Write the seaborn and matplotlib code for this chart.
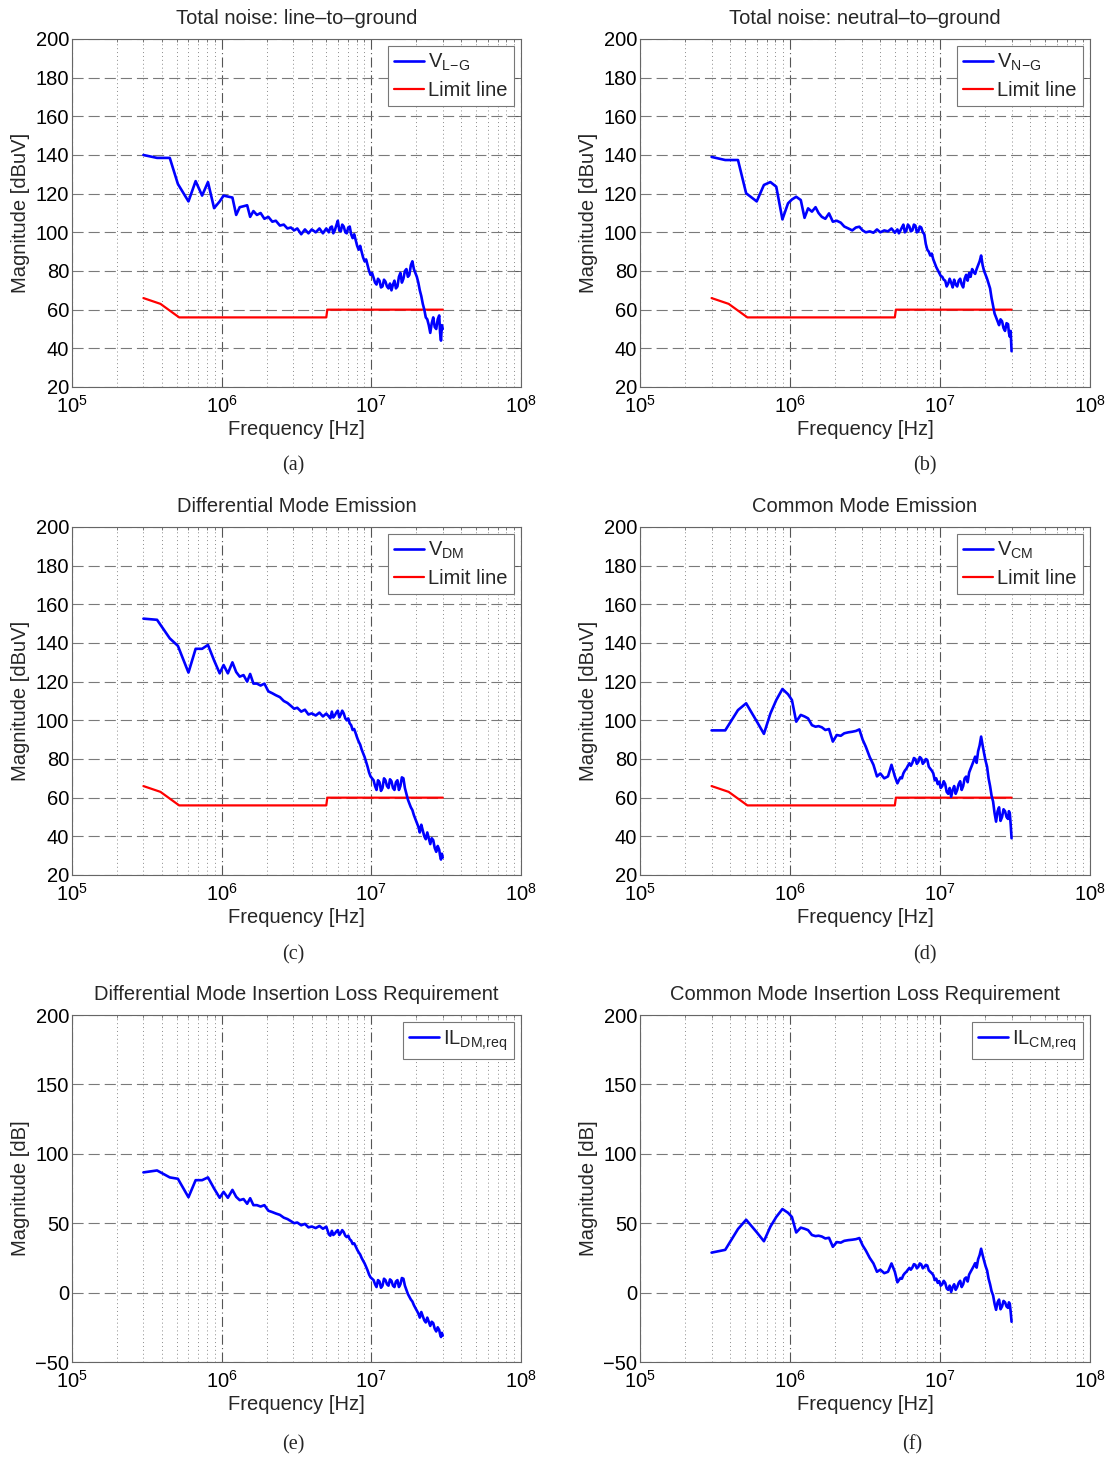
import numpy as np
import pandas as pd
import matplotlib
matplotlib.use("Agg")
import matplotlib.pyplot as plt
import seaborn as sns
from matplotlib.ticker import LogLocator, NullFormatter, FixedLocator

# ---------------- data ----------------
# sparse low-frequency part (0.3 - 5 MHz)
freq_low_mhz = [
    0.30, 0.37, 0.45, 0.51, 0.60, 0.67, 0.74, 0.81, 0.89, 0.97,
    1.03, 1.10, 1.18, 1.25, 1.32, 1.40, 1.48, 1.55, 1.63, 1.72,
    1.82, 1.93, 2.05, 2.18, 2.30, 2.45, 2.60, 2.75, 2.90, 3.05,
    3.20, 3.40, 3.60, 3.80, 4.00, 4.25, 4.50, 4.75, 5.00,
]
# dense high-frequency part (5.2 - 30 MHz)
freq_high_mhz = [
    5.20, 5.32, 5.45, 5.57, 5.70, 5.83, 5.97, 6.11, 6.25, 6.39,
    6.54, 6.70, 6.85, 7.01, 7.17, 7.33, 7.50, 7.68, 7.86, 8.04,
    8.23, 8.42, 8.61, 8.81, 9.02, 9.23, 9.44, 9.66, 9.88, 10.11,
    10.35, 10.59, 10.83, 11.08, 11.34, 11.60, 11.87, 12.15, 12.43, 12.72,
    13.02, 13.32, 13.63, 13.95, 14.27, 14.60, 14.94, 15.29, 15.64, 16.00,
    16.38, 16.76, 17.15, 17.55, 17.95, 18.37, 18.80, 19.24, 19.68, 20.14,
    20.60, 21.08, 21.57, 22.07, 22.59, 23.11, 23.65, 24.20, 24.76, 25.33,
    25.92, 26.52, 27.14, 27.77, 28.42, 28.80, 29.20, 29.60, 30.00,
]

v_lg_low = [
    140, 138.5, 138.5, 125, 116, 126.5, 119, 126, 112.5, 116,
    119, 118.5, 118, 109, 113, 113.5, 114, 108, 111, 109,
    110, 107, 108, 105.5, 106, 103.5, 104, 102, 102.5, 101,
    102, 99, 101.5, 99.5, 101.5, 100, 102, 99.5, 102,
]
v_lg_high = [
    100, 102.5, 103, 99.5, 101, 103.5, 106, 101, 100.5, 104,
    103, 100, 99.5, 102.5, 103, 99, 97, 99, 96, 93,
    91, 93, 90, 87, 85, 86, 83, 80, 78, 79,
    76.5, 74, 73, 76, 75, 71.5, 72, 75.5, 74.5, 72,
    71, 73.5, 70, 73, 75, 71, 72, 77, 79, 74,
    76, 80, 81, 77, 78, 83, 85, 81, 79, 77,
    74, 70, 67, 63, 60, 56, 55, 52, 48, 53,
    56, 51, 50, 55, 57, 48, 44, 52, 50,
]

v_ng_low = [
    139, 137.4, 137.4, 120.2, 116, 124.5, 126, 123.6, 106.7, 115,
    117, 118.4, 116.7, 107.5, 112.4, 110.7, 113, 110, 108, 107,
    109.8, 105.5, 106, 105, 103, 102, 101, 102.5, 102.9, 101,
    100, 100.5, 99.8, 101.5, 100, 101, 100.5, 102, 99.8,
]
v_ng_high = [
    101.5, 99.5, 101, 102.5, 104, 100, 101, 104, 103, 100.5,
    101, 104, 103.5, 100, 100.5, 103, 102.5, 100, 99, 94,
    91, 90, 88, 89, 86, 84, 82, 80.5, 79, 77.5,
    77, 75.5, 75, 72, 73.5, 76, 74, 71.5, 75.5, 73,
    72, 75, 76, 73, 71.5, 76, 78, 75, 79, 77,
    81, 79.5, 78.5, 81, 83, 85, 88, 83, 80, 78,
    76, 73.5, 71, 66, 62, 58, 56, 54, 52, 55,
    54, 50.5, 49, 53, 52.5, 48, 46, 49, 38.5,
]

v_dm_low = [
    152.6, 152, 142.4, 138.5, 124.7, 137, 137, 139, 131, 124.3,
    128.6, 124.3, 130, 125, 122.6, 123.4, 120, 124, 119, 119,
    118, 119, 115, 114, 113, 112, 110, 109, 107.5, 106,
    106.5, 104.5, 105.5, 103, 103.6, 102.5, 104, 102, 103.5,
]
v_dm_high = [
    102, 101, 104.5, 101.5, 102.5, 104, 105, 101.5, 103, 105,
    103.6, 101, 100, 101, 98.4, 97.5, 95, 95.5, 93.3, 91,
    89, 87.5, 85, 83, 81, 78.5, 76, 73, 71, 70,
    69, 66, 64, 69, 68, 63.5, 65, 70, 69, 66,
    65, 69.5, 68.5, 65, 64, 68, 69, 64, 66, 70.5,
    70, 65, 62, 59, 57, 55, 53.6, 51, 49, 47,
    45, 42, 46, 43, 40, 38.5, 42, 39, 36, 39,
    38, 34, 32, 35, 33, 30, 28, 31, 29,
]

v_cm_low = [
    94.8, 94.8, 105.3, 108.8, 99.5, 93, 103.5, 110.5, 116.2, 113.5,
    110.5, 99.3, 102.8, 102, 101, 97.5, 96.7, 97, 96.4, 95,
    95.5, 89, 92.4, 92, 93.3, 93.8, 94.1, 94.5, 95.3, 90,
    86.4, 81, 77, 71, 72.5, 70, 71, 77, 71,
]
v_cm_high = [
    67.4, 69, 70.5, 70, 72.6, 74, 75, 76.5, 77.8, 76.5,
    78, 80.5, 80, 77.5, 78.5, 81, 80.3, 77.5, 78.5, 80,
    79.5, 76, 75, 74, 72.6, 69, 70, 67, 68.3, 65,
    66, 68.5, 67, 63, 62, 65, 60.5, 64, 66, 62,
    64, 67, 68.5, 64, 66, 70, 70.9, 68, 73, 75,
    77, 79, 81.2, 78, 84, 87, 91.6, 87, 82.9, 79,
    76, 70, 66, 61, 58, 52, 47.6, 53, 55, 48,
    50, 54, 53, 50, 49, 53, 51.9, 46, 39,
]

il_dm_low = [
    86.6, 88.0, 83, 82, 68.7, 81, 81, 83, 75, 68.3,
    72.6, 68.3, 74, 69, 66.6, 67.4, 64, 68, 63, 63,
    62, 63, 59, 58, 57, 56, 54, 53, 51.5, 50,
    50.5, 48.5, 49.5, 47, 47.6, 46.5, 48, 46, 47.5,
]
il_dm_high = [
    42, 41, 44.5, 41.5, 42.5, 44, 45, 41.5, 43, 45,
    43.6, 41, 40, 41, 38.4, 37.5, 35, 35.5, 33.3, 31,
    29, 27.5, 25, 23, 21, 18.5, 16, 13, 11, 10,
    9, 6, 4, 9, 8, 3.5, 5, 10, 9, 6,
    5, 9.5, 8.5, 5, 4, 8, 9, 4, 6, 10.5,
    10, 5, 2, -1, -3, -5, -6.4, -9, -11, -13,
    -15, -18, -14, -17, -20, -21.5, -18, -21, -24, -21,
    -22, -26, -28, -25, -27, -30, -32, -29, -31,
]

il_cm_low = [
    28.8, 30.8, 45.8, 52.5, 43.5, 37, 47.5, 54.5, 60.2, 57.5,
    54.5, 43.3, 46.8, 46, 45, 41.5, 40.7, 41, 40.4, 39,
    39.5, 33, 36.4, 36, 37.3, 37.8, 38.1, 38.5, 39.3, 34,
    30.4, 25, 21, 15, 16.5, 14, 15, 21, 15,
]
il_cm_high = [
    7.4, 9, 10.5, 10, 12.6, 14, 15, 16.5, 17.8, 16.5,
    18, 20.5, 20, 17.5, 18.5, 21, 20.3, 17.5, 18.5, 20,
    19.5, 16, 15, 14, 12.6, 9, 10, 7, 8.3, 5,
    6, 8.5, 7, 3, 2, 5, 0.5, 4, 6, 2,
    4, 7, 8.5, 4, 6, 10, 10.9, 8, 13, 15,
    17, 19, 21.2, 18, 24, 27, 31.6, 27, 22.9, 19,
    16, 10, 6, 1, -2, -8, -12.4, -7, -5, -12,
    -10, -6, -7, -10, -11, -7, -8.1, -14, -21,
]

limit_freq_mhz = [0.30, 0.39, 0.52, 5.0, 5.08, 30.0]
limit_dbuv = [66, 63, 56, 56, 60, 60]

titles = [
    "Total noise: line\u2013to\u2013ground",
    "Total noise: neutral\u2013to\u2013ground",
    "Differential Mode Emission",
    "Common Mode Emission",
    "Differential Mode Insertion Loss Requirement",
    "Common Mode Insertion Loss Requirement",
]
series_labels = [
    r"$\mathregular{V_{L\!-\!G}}$",
    r"$\mathregular{V_{N\!-\!G}}$",
    r"$\mathregular{V_{DM}}$",
    r"$\mathregular{V_{CM}}$",
    r"$\mathregular{IL_{DM{,}req}}$",
    r"$\mathregular{IL_{CM{,}req}}$",
]
captions = ["(a)", "(b)", "(c)", "(d)", "(e)", "(f)"]
ylabels = ["Magnitude [dBuV]"] * 4 + ["Magnitude [dB]"] * 2
yticks_v = [20, 40, 60, 80, 100, 120, 140, 160, 180, 200]
yticks_il = [-50, 0, 50, 100, 150, 200]

# ---------------- style ----------------
sns.set_theme(style="white")
plt.rcParams['font.family'] = ['Liberation Sans', 'DejaVu Sans']
plt.rcParams['mathtext.fontset'] = 'custom'
plt.rcParams['mathtext.rm'] = 'Liberation Sans'
plt.rcParams['mathtext.it'] = 'Liberation Sans:italic'
plt.rcParams['mathtext.bf'] = 'Liberation Sans:bold'
plt.rcParams['axes.unicode_minus'] = True

W, H = 1111, 1461
fig = plt.figure(figsize=(W / 100, H / 100), dpi=100)
fig.patch.set_facecolor('white')

# axes pixel boxes: left, top, right, bottom
boxes = [
    (72, 39, 521, 387), (640, 39, 1090, 387),
    (72, 527, 521, 875), (640, 527, 1090, 875),
    (72, 1015, 521, 1362), (640, 1015, 1090, 1362),
]
caption_pos = [(293, 466), (925, 466), (293, 955), (925, 955), (293, 1445), (912, 1445)]

blue_series = [
    v_lg_low + v_lg_high, v_ng_low + v_ng_high,
    v_dm_low + v_dm_high, v_cm_low + v_cm_high,
    il_dm_low + il_dm_high, il_cm_low + il_cm_high,
]
freq_hz = np.array(freq_low_mhz + freq_high_mhz) * 1e6
limit_hz = np.array(limit_freq_mhz) * 1e6

FS = 14.5

for i, (l, t, r, b) in enumerate(boxes):
    ax = fig.add_axes([l / W, 1 - b / H, (r - l) / W, (b - t) / H])
    ax.set_facecolor('white')
    ax.set_xscale('log')

    df = pd.DataFrame({'freq': freq_hz, 'value': blue_series[i]})
    sns.lineplot(data=df, x='freq', y='value', ax=ax, color='#0000ff',
                 linewidth=1.9, estimator=None, sort=False,
                 label=series_labels[i], zorder=4)
    if i < 4:
        dl = pd.DataFrame({'freq': limit_hz, 'value': limit_dbuv})
        sns.lineplot(data=dl, x='freq', y='value', ax=ax, color='#ff0000',
                     linewidth=1.6, estimator=None, sort=False,
                     label='Limit line', zorder=3)
        ax.set_ylim(20, 200)
        ax.yaxis.set_major_locator(FixedLocator(yticks_v))
    else:
        ax.set_ylim(-50, 200)
        ax.yaxis.set_major_locator(FixedLocator(yticks_il))

    ax.set_xlim(1e5, 1e8)
    ax.xaxis.set_major_locator(LogLocator(base=10, numticks=10))
    ax.xaxis.set_minor_locator(LogLocator(base=10, subs=np.arange(2, 10), numticks=100))
    ax.xaxis.set_minor_formatter(NullFormatter())

    ax.grid(which='major', axis='y', linestyle=(0, (10, 4.5)), color='#7a7a7a', linewidth=0.8)
    ax.grid(which='major', axis='x', linestyle=(0, (9, 3, 1, 3)), color='#555555', linewidth=0.8)
    ax.grid(which='minor', axis='x', linestyle=(0, (1, 3)), color='#8a8a8a', linewidth=0.7)
    ax.set_axisbelow(True)

    ax.tick_params(axis='both', which='both', direction='in', top=True, right=True,
                   labelsize=FS, colors='#555555', labelcolor='black')
    ax.tick_params(axis='x', which='major', length=4, width=0.6, pad=6)
    ax.tick_params(axis='y', which='major', length=4, width=0.6, pad=2)
    ax.tick_params(axis='both', which='minor', length=2.5, width=0.5)
    for s in ax.spines.values():
        s.set_color('#666666')
        s.set_linewidth(0.8)

    ax.set_title(titles[i], fontsize=FS, pad=11)
    ax.set_xlabel("Frequency [Hz]", fontsize=FS, labelpad=2)
    ax.set_ylabel(ylabels[i], fontsize=FS, labelpad=4)

    leg = ax.legend(loc='upper right', fontsize=FS, frameon=True, fancybox=False,
                    borderaxespad=0.35, borderpad=0.3, handlelength=1.5,
                    handletextpad=0.2, labelspacing=0.4)
    leg.get_frame().set_edgecolor('#777777')
    leg.get_frame().set_linewidth(0.8)
    leg.get_frame().set_alpha(1.0)

    cx, cy = caption_pos[i]
    fig.text(cx / W, 1 - cy / H, captions[i], ha='center', va='center',
             fontsize=FS, family=['Liberation Serif', 'DejaVu Serif'])

fig.savefig("out.png", dpi=100, facecolor='white')
